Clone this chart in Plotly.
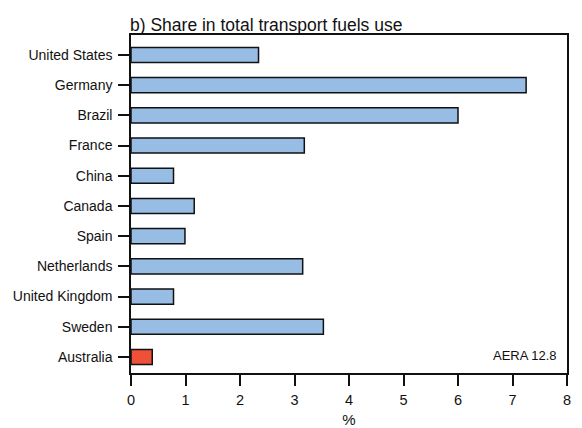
import plotly.graph_objects as go

countries = ["United States", "Germany", "Brazil", "France", "China", "Canada",
             "Spain", "Netherlands", "United Kingdom", "Sweden", "Australia"]
shares = [2.34, 7.25, 6.0, 3.18, 0.78, 1.16, 0.99, 3.15, 0.78, 3.53, 0.39]
colors = ["#98BDE4"] * 10 + ["#EE5138"]

fig = go.Figure()
fig.add_trace(go.Bar(
    y=countries, x=shares, orientation="h",
    marker=dict(color=colors, line=dict(color="#111111", width=1.5)),
    width=0.5,
))

font = "Liberation Sans, Arial, Helvetica, sans-serif"
fig.update_layout(
    width=582, height=428,
    margin=dict(l=131, r=15, t=35, b=55, autoexpand=False),
    paper_bgcolor="white", plot_bgcolor="white",
    showlegend=False,
    font=dict(family=font, size=14, color="#111111"),
    title=dict(text="b) Share in total transport fuels use", x=130/582, xanchor="left",
               y=1 - 25/428, yanchor="middle", font=dict(size=17.5, family=font, color="#111111")),
    xaxis=dict(range=[0, 8], tickvals=list(range(9)), ticks="outside", ticklen=11, tickwidth=1.5,
               tickcolor="#111111", showline=True, linecolor="#111111", linewidth=1.5, mirror=True,
               showgrid=False, zeroline=False, tickfont=dict(size=14.5), ticklabelstandoff=2,
               title=dict(text="%", font=dict(size=15), standoff=22)),
    yaxis=dict(range=[10.53, -0.66], type="category", ticks="outside", ticklen=11, tickwidth=1.5,
               tickcolor="#111111", showline=True, linecolor="#111111", linewidth=1.5, mirror=True,
               showgrid=False, zeroline=False, tickfont=dict(size=14), ticklabelstandoff=3),
    annotations=[dict(text="AERA 12.8", xref="paper", yref="paper",
                      x=(559 - 131) / (582 - 131 - 15), y=(373 - 365) / (428 - 35 - 55),
                      xanchor="right", yanchor="bottom", showarrow=False,
                      font=dict(size=13, family=font, color="#111111"))],
)
fig.write_html("out.html", config={"displayModeBar": False},
               post_script="document.body.style.margin='0';")
